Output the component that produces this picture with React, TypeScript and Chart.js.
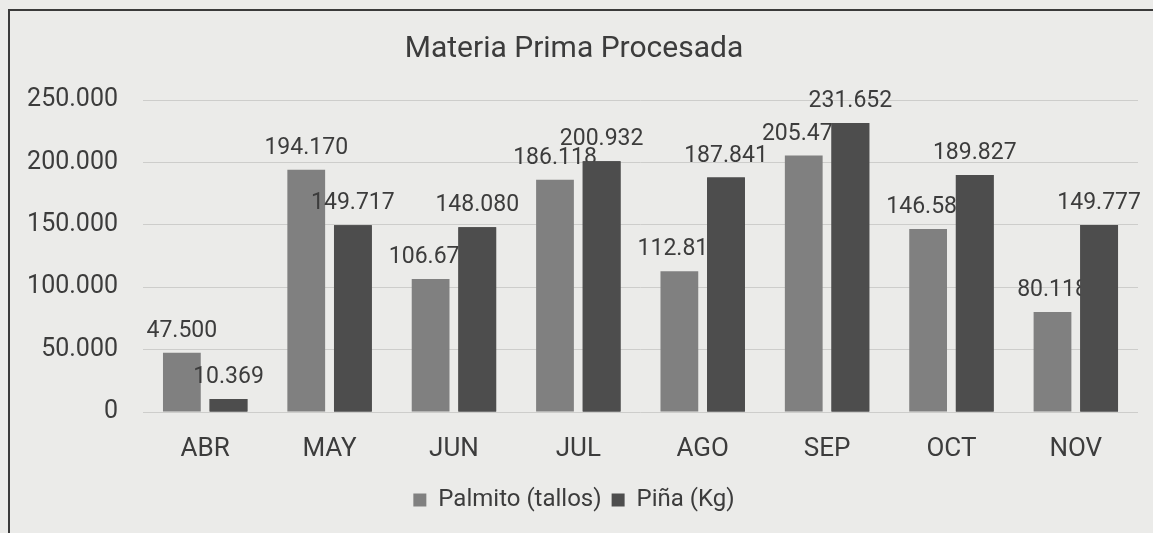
import React, { useEffect, useRef } from "react";
import { Chart, registerables } from "chart.js";

Chart.register(...registerables);

const months = ["ABR", "MAY", "JUN", "JUL", "AGO", "SEP", "OCT", "NOV"];
const palmito = [47500, 194170, 106670, 186118, 112810, 205470, 146580, 80118];
const pina = [10369, 149717, 148080, 200932, 187841, 231652, 189827, 149777];
const seriesNames = ["Palmito (tallos)", "Piña (Kg)"];
const titleText = "Materia Prima Procesada";

const FONT = "Roboto, 'Liberation Sans', Arial, sans-serif";
const PAPER = "#ebebe9";
const TEXT = "#3c3c3c";
const PALMITO_COLOR = "#808080";
const PINA_COLOR = "#4d4d4d";

const fmt = (n: number) => String(Math.round(n)).replace(/\B(?=(\d{3})+(?!\d))/g, ".");

const paperPlugin = {
  id: "paper",
  beforeDraw(chart: any) {
    const { ctx, width, height } = chart;
    ctx.save();
    ctx.fillStyle = PAPER;
    ctx.fillRect(0, 0, width, height);
    ctx.strokeStyle = "#3a3a3a";
    ctx.lineWidth = 2;
    ctx.beginPath();
    ctx.moveTo(9, height);
    ctx.lineTo(9, 10);
    ctx.lineTo(width, 10);
    ctx.stroke();
    ctx.restore();
  },
};

const labelPlugin = {
  id: "valueLabels",
  afterDatasetsDraw(chart: any) {
    const { ctx } = chart;
    const drawLabels = (di: number) => {
      const meta = chart.getDatasetMeta(di);
      const data = chart.data.datasets[di].data as number[];
      ctx.save();
      ctx.font = `23px ${FONT}`;
      ctx.fillStyle = TEXT;
      ctx.textAlign = "center";
      ctx.textBaseline = "alphabetic";
      meta.data.forEach((bar: any, i: number) => {
        ctx.fillText(fmt(data[i]), bar.x, bar.y - 16);
      });
      ctx.restore();
    };
    drawLabels(0);
    // redraw second series bars so they cover overlapping labels
    const meta1 = chart.getDatasetMeta(1);
    ctx.save();
    meta1.data.forEach((bar: any) => bar.draw(ctx));
    ctx.restore();
    drawLabels(1);
  },
};

export default function App() {
  const canvasRef = useRef<HTMLCanvasElement | null>(null);

  useEffect(() => {
    document.body.style.margin = "0";
    const canvas = canvasRef.current;
    if (!canvas) return;
    const chart = new Chart(canvas, {
      type: "bar",
      data: {
        labels: months,
        datasets: [
          {
            label: seriesNames[0],
            data: palmito,
            backgroundColor: PALMITO_COLOR,
            categoryPercentage: 0.75,
            barPercentage: 0.81,
          },
          {
            label: seriesNames[1],
            data: pina,
            backgroundColor: PINA_COLOR,
            categoryPercentage: 0.75,
            barPercentage: 0.81,
          },
        ],
      },
      options: {
        responsive: false,
        maintainAspectRatio: false,
        animation: false,
        layout: { padding: { top: 14, left: 10, right: 15, bottom: 11 } },
        plugins: {
          title: {
            display: true,
            text: titleText,
            color: TEXT,
            font: { family: FONT, size: 30, weight: "normal" },
            padding: { top: 17, bottom: 33 },
          },
          legend: {
            position: "bottom",
            labels: {
              color: TEXT,
              font: { family: FONT, size: 24 },
              boxWidth: 13,
              boxHeight: 13,
              padding: 10,
            },
          },
          tooltip: { enabled: false },
        },
        scales: {
          x: {
            grid: { display: false, drawTicks: false },
            border: { display: false },
            ticks: { color: TEXT, font: { family: FONT, size: 26 }, padding: 22 },
            afterFit(scale: any) {
              scale.height = 66;
            },
          },
          y: {
            min: 0,
            max: 250000,
            grid: { color: "#cdcdcb", drawTicks: false, lineWidth: 1 },
            border: { display: false },
            ticks: {
              stepSize: 50000,
              color: TEXT,
              font: { family: FONT, size: 25 },
              padding: 25,
              callback: (v: any) => fmt(Number(v)),
            },
            afterFit(scale: any) {
              scale.width = 133;
            },
          },
        },
      },
      plugins: [paperPlugin, labelPlugin],
    });
    return () => chart.destroy();
  }, []);

  return (
    <div style={{ width: 1153, height: 533 }}>
      <canvas ref={canvasRef} width={1153} height={533} style={{ display: "block" }} />
    </div>
  );
}
